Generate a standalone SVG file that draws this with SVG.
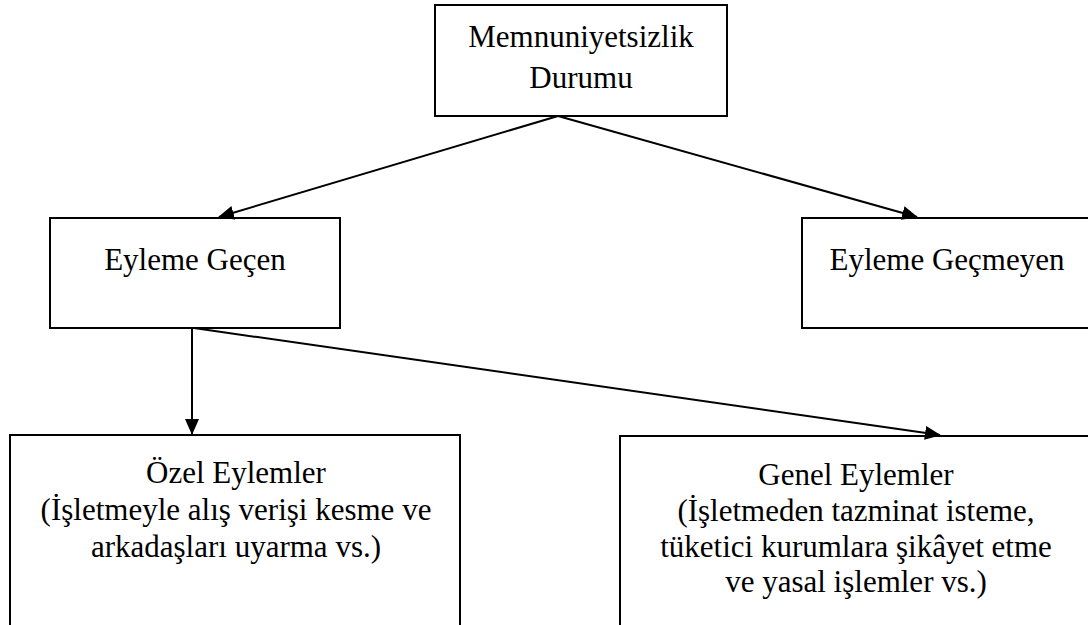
<svg xmlns="http://www.w3.org/2000/svg" width="1088" height="625" viewBox="0 0 1088 625">
<style>
.box{fill:#fff;stroke:#000;stroke-width:2}
.t{font-family:'Liberation Serif','Times New Roman',serif;font-size:31px;fill:#000;text-anchor:middle}
.c{stroke:#000;stroke-width:2;fill:none;marker-end:url(#ah)}
</style>
<defs>
<marker id="ah" markerWidth="16" markerHeight="14" refX="15" refY="7" orient="auto" markerUnits="userSpaceOnUse">
<path d="M0,0 L16,7 L0,14 Z" fill="#000"/>
</marker>
</defs>
<rect width="1088" height="625" fill="#fff"/>
<g id="n-top">
<rect class="box" x="435" y="5" width="292" height="111"/>
<text class="t" x="581" y="47">Memnuniyetsizlik</text>
<text class="t" x="581" y="88">Durumu</text>
</g>
<g id="n-gecen">
<rect class="box" x="50" y="218" width="290" height="110"/>
<text class="t" x="195" y="270">Eyleme Geçen</text>
</g>
<g id="n-gecmeyen">
<rect class="box" x="802" y="218" width="300" height="110"/>
<text class="t" x="947" y="270">Eyleme Geçmeyen</text>
</g>
<g id="n-ozel">
<rect class="box" x="10" y="435" width="450" height="200"/>
<text class="t" x="236" y="483">Özel Eylemler</text>
<text class="t" x="236" y="520">(İşletmeyle alış verişi kesme ve</text>
<text class="t" x="236" y="557">arkadaşları uyarma vs.)</text>
</g>
<g id="n-genel">
<rect class="box" x="620" y="436" width="480" height="200"/>
<text class="t" x="856" y="485">Genel Eylemler</text>
<text class="t" x="856" y="521">(İşletmeden tazminat isteme,</text>
<text class="t" x="856" y="557">tüketici kurumlara şikâyet etme</text>
<text class="t" x="856" y="592">ve yasal işlemler vs.)</text>
</g>
<g id="connectors">
<line class="c" x1="558" y1="116" x2="219" y2="217"/>
<line class="c" x1="558" y1="116" x2="917" y2="217"/>
<line class="c" x1="192" y1="328" x2="192" y2="434"/>
<line class="c" x1="194" y1="328" x2="940" y2="435"/>
</g>
</svg>
